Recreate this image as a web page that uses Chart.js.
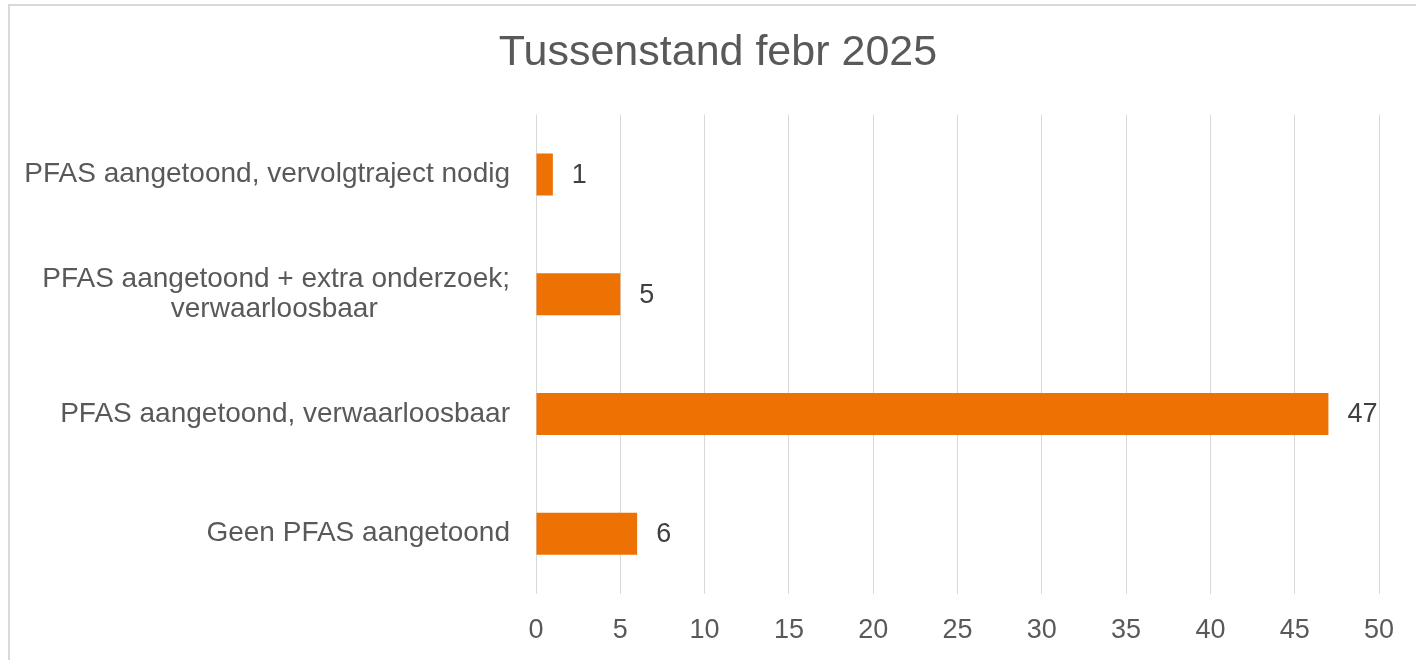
<!DOCTYPE html>
<html>
<head>
<meta charset="utf-8">
<script src="https://cdn.jsdelivr.net/npm/chart.js@4"></script>
<style>
    html, body { margin: 0; padding: 0; background: #fff; overflow: hidden; }
    body { width: 1416px; height: 660px; position: relative; }
    #kader {
        position: absolute; left: 8px; top: 4px;
        width: 1416px; height: 680px;
        border-left: 2px solid #d9d9d9; border-top: 2px solid #d9d9d9;
    }
</style>
</head>
<body>
<div id="kader">
    <canvas id="tussenstand" width="1416" height="672"></canvas>
</div>
<script>
// gegevens uit de grafiek
var titel = 'Tussenstand febr 2025';
var categorieen = [
    'PFAS aangetoond, vervolgtraject nodig',
    ['PFAS aangetoond + extra onderzoek;', 'verwaarloosbaar'],
    'PFAS aangetoond, verwaarloosbaar',
    'Geen PFAS aangetoond'
];
var aantallen = [1, 5, 47, 6];
var asMin = 0;
var asMax = 50;
var asStap = 5;

var lettertype = '"Liberation Sans", Arial, sans-serif';
var labelFont = '28px ' + lettertype;

// regels van een label op meerdere regels onder elkaar centreren (zoals Excel doet)
var meetCtx = document.createElement('canvas').getContext('2d');
meetCtx.font = labelFont;
function centreerRegels(label) {
    if (!Array.isArray(label)) return label;
    var breedtes = label.map(function (r) { return meetCtx.measureText(r).width; });
    var max = Math.max.apply(null, breedtes);
    var spatie = meetCtx.measureText(' ').width;
    return label.map(function (r, i) {
        var n = Math.round((max - breedtes[i]) / 2 / spatie);
        return r + ' '.repeat(n);
    });
}

// getallen naast de balken
var waardeLabels = {
    id: 'waardeLabels',
    afterDatasetsDraw: function (chart) {
        var ctx = chart.ctx;
        var meta = chart.getDatasetMeta(0);
        ctx.save();
        ctx.font = '27px ' + lettertype;
        ctx.fillStyle = '#404040';
        ctx.textAlign = 'left';
        ctx.textBaseline = 'middle';
        meta.data.forEach(function (balk, i) {
            ctx.fillText(String(chart.data.datasets[0].data[i]), balk.x + 19, balk.y + 1);
        });
        ctx.restore();
    }
};

const config = {
    type: 'bar',
    data: {
        labels: categorieen,
        datasets: [{
            label: 'Aantal',
            data: aantallen,
            backgroundColor: '#ee7203',
            borderWidth: 0,
            barPercentage: 0.35,
            categoryPercentage: 1
        }]
    },
    options: {
        indexAxis: 'y',
        responsive: false,
        animation: false,
        layout: {
            padding: { left: 0, right: 0, top: 0, bottom: 10 }
        },
        plugins: {
            legend: { display: false },
            tooltip: { enabled: false },
            title: {
                display: true,
                text: titel,
                color: '#595959',
                font: { family: lettertype, size: 43, weight: 'normal' },
                padding: { top: 21, bottom: 36 }
            }
        },
        scales: {
            x: {
                min: asMin,
                max: asMax,
                grid: { color: '#d9d9d9', lineWidth: 1, drawTicks: false },
                border: { display: false },
                ticks: {
                    stepSize: asStap,
                    color: '#595959',
                    padding: 21,
                    font: { family: lettertype, size: 27 }
                }
            },
            y: {
                grid: { display: false, drawTicks: false },
                border: { display: false },
                afterFit: function (scale) { scale.width = 526; },
                ticks: {
                    color: '#595959',
                    padding: 26,
                    font: { family: lettertype, size: 28, lineHeight: 1.08 },
                    callback: function (value) {
                        return centreerRegels(this.getLabelForValue(value));
                    }
                }
            },
            // lege as rechts: houdt ruimte vrij zodat de titel midden boven de hele grafiek staat
            rechts: {
                type: 'category',
                position: 'right',
                grid: { display: false, drawTicks: false },
                border: { display: false },
                ticks: { display: false },
                afterFit: function (scale) { scale.width = 47; }
            }
        }
    },
    plugins: [waardeLabels]
};

var grafiek = new Chart(document.getElementById('tussenstand'), config);
</script>
</body>
</html>
